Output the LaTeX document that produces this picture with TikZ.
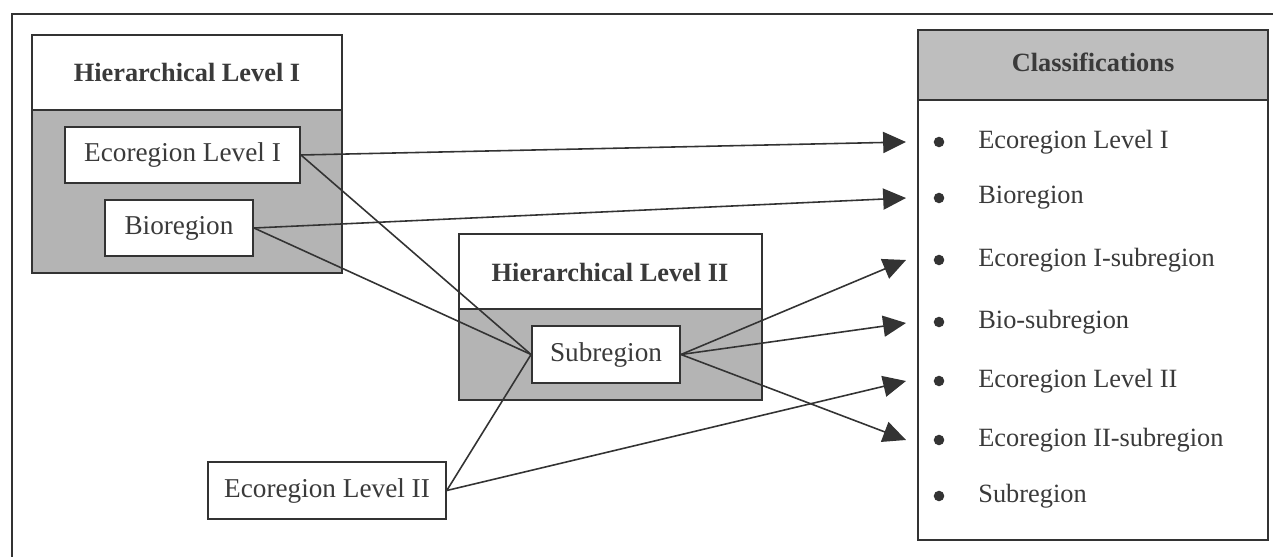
\documentclass[tikz,border=0pt]{standalone}
\usepackage{fontspec}
\setmainfont{Liberation Serif}
\usetikzlibrary{arrows.meta}
\definecolor{ink}{HTML}{333333}
\definecolor{txt}{HTML}{3A3A3A}
\definecolor{greyfill}{HTML}{B4B4B4}
\definecolor{headfill}{HTML}{BEBEBE}
\tikzset{
  frame/.style={draw=ink, line width=0.9pt},
  inbox/.style={draw=ink, line width=1.1pt, fill=white, text=txt, font=\fontsize{15.5}{17}\selectfont, inner sep=0pt},
  htext/.style={text=txt, font=\bfseries\fontsize{15}{17}\selectfont},
  itemtext/.style={text=txt, font=\fontsize{15}{17}\selectfont, anchor=west, inner sep=0pt},
  conn/.style={draw=ink, line width=0.9pt},
  arr/.style={conn, -{Triangle[length=13pt,width=12pt]}},
  bul/.style={circle, fill=ink, inner sep=0pt, minimum size=6pt}
}
\begin{document}
\begin{tikzpicture}[x=0.02cm, y=-0.02cm]
\useasboundingbox (0,0) rectangle (1273,557);
\fill[white] (0,0) rectangle (1273,557);
% outer frame (only left and top visible)
\draw[frame] (12,557) -- (12,14) -- (1273,14);

% Hierarchical Level I
\fill[greyfill] (32,110) rectangle (342,273);
\draw[frame] (32,35) rectangle (342,273);
\draw[frame] (32,110) -- (342,110);
\node[htext] (h1) at (187,72) {Hierarchical Level I};
\node[inbox, minimum width=4.70cm, minimum height=1.12cm] (eco1) at (182.5,155) {Ecoregion Level I};
\node[inbox, minimum width=2.96cm, minimum height=1.12cm] (bio) at (179,228) {Bioregion};

% Hierarchical Level II
\fill[greyfill] (459,309) rectangle (762,400);
\draw[frame] (459,234) rectangle (762,400);
\draw[frame, line width=1.3pt] (459,309) -- (762,309);
\node[htext] (h2) at (610,272) {Hierarchical Level II};
\node[inbox, minimum width=2.96cm, minimum height=1.14cm] (sub) at (606,354.5) {Subregion};

% Ecoregion Level II
\node[inbox, line width=0.9pt, minimum width=4.76cm, minimum height=1.14cm] (eco2) at (327,490.5) {Ecoregion Level II};

% Classifications
\fill[headfill] (918,30) rectangle (1268,100);
\draw[frame, line width=1.1pt] (918,30) rectangle (1268,540);
\draw[frame] (918,100) -- (1268,100);
\node[htext] (ch) at (1093,62) {Classifications};
\foreach \y/\t [count=\i] in {142/Ecoregion Level I, 198/Bioregion, 260/Ecoregion I-subregion, 322/Bio-subregion, 381/Ecoregion Level II, 440/Ecoregion II-subregion, 496/Subregion}{
  \node[bul] (b\i) at (939,\y) {};
  \node[itemtext] (c\i) at (978,\y) {\t};
}

% arrow tips
\coordinate (t1) at (906,142);
\coordinate (t2) at (906,198);
\coordinate (t3) at (906,260);
\coordinate (t4) at (906,323);
\coordinate (t5) at (906,381);
\coordinate (t6) at (906,440);

% connectors
\draw[arr] (eco1.east) -- (t1);
\draw[arr] (bio.east) -- (t2);
\draw[conn] (eco1.east) -- (sub.west);
\draw[conn] (bio.east) -- (sub.west);
\draw[arr] (sub.east) -- (t3);
\draw[arr] (sub.east) -- (t4);
\draw[arr] (sub.east) -- (t6);
\draw[arr] (eco2.east) -- (t5);
\draw[conn] (eco2.east) -- (sub.west);
\end{tikzpicture}
\end{document}
